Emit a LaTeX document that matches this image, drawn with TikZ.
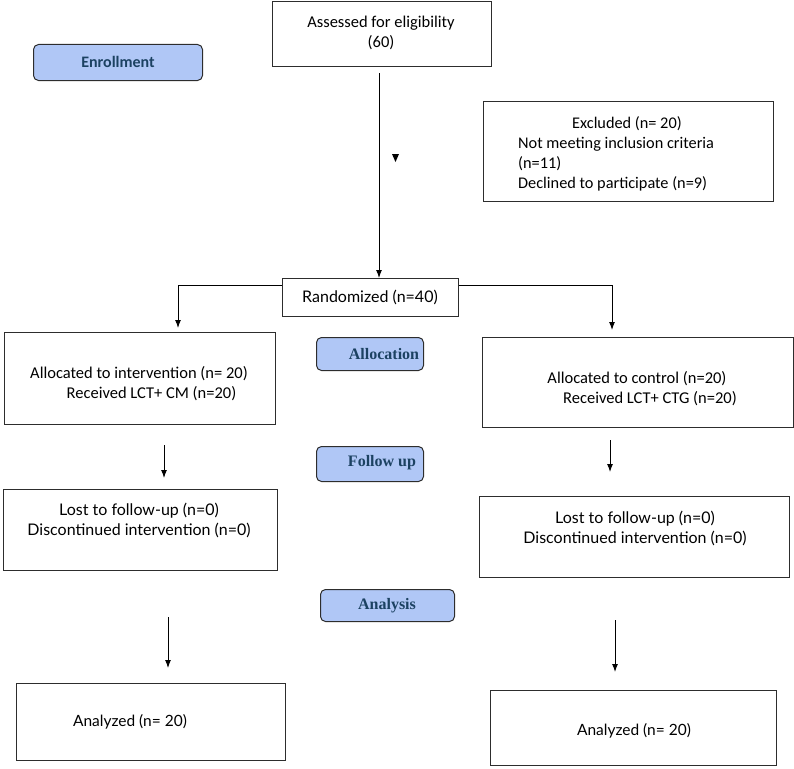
\documentclass[tikz,border=0pt]{standalone}
\usepackage{fontspec}
\setmainfont{Carlito}
\newfontfamily\aptos{Lato}
\newfontfamily\timesb{Liberation Serif}
\usetikzlibrary{arrows.meta,positioning}
\definecolor{lblfill}{RGB}{176,199,246}
\definecolor{lbltext}{RGB}{28,66,98}
\definecolor{edge}{RGB}{45,45,45}
\tikzset{
  box/.style={draw=edge, line width=1pt, fill=white, inner sep=0pt, anchor=north west},
  lbl/.style={draw=edge, line width=1pt, fill=lblfill, rounded corners=5pt, inner sep=0pt, anchor=north west},
  txt/.style={inner sep=0pt, font=\fontsize{16.5}{20}\selectfont, align=center},
  ltxt/.style={inner sep=0pt, font=\fontsize{16.3}{20}\selectfont, align=left},
  atxt/.style={inner sep=0pt, font=\aptos\fontsize{16}{20}\selectfont, align=center},
  antxt/.style={inner sep=0pt, font=\aptos\fontsize{15.5}{20}\selectfont, align=center},
  lbls/.style={inner sep=0pt, font=\fontsize{16}{20}\selectfont\bfseries, text=lbltext},
  lblt/.style={inner sep=0pt, font=\timesb\fontsize{16}{20}\selectfont\bfseries, text=lbltext},
  conn/.style={line width=1pt, -{Latex[length=8pt,width=6pt]}},
  plain/.style={line width=1pt}
}
\begin{document}
\begin{tikzpicture}[x=1pt,y=-1pt]
\useasboundingbox (0,0) rectangle (794,768);
% boxes
\node[box, minimum width=219, minimum height=65] (assess) at (272,1) {};
\node[txt] (assesst) at (381,33) {Assessed for eligibility\\(60)};
\node[lbl, minimum width=169, minimum height=36] (enrol) at (33,44) {};
\node[lbls] (enrolt) at (118,62) {Enrollment};
\node[box, minimum width=290, minimum height=100] (excl) at (483,101) {};
\node[ltxt, anchor=west] (exclt) at (518,154) {\hspace*{54pt}Excluded (n= 20)\\Not meeting inclusion criteria\\(n=11)\\Declined to participate (n=9)};
\node[box, minimum width=176, minimum height=38] (rand) at (282,278) {};
\node[atxt] (randt) at (370,297) {Randomized (n=40)};
% allocation
\node[box, minimum width=271, minimum height=92] (alocL) at (4,332) {};
\node[txt] (alocLt) at (139,384) {Allocated to intervention (n= 20)\\\hspace*{25pt}Received LCT+ CM (n=20)};
\node[lbl, minimum width=107, minimum height=33] (alloc) at (316,337) {};
\node[lblt] (alloct) at (384,354) {Allocation};
\node[box, minimum width=311, minimum height=90] (alocR) at (482,337) {};
\node[txt] (alocRt) at (637,389) {Allocated to control (n=20)\\\hspace*{26pt}Received LCT+ CTG (n=20)};
% follow up
\node[lbl, minimum width=107, minimum height=35] (follow) at (316,446) {};
\node[lblt] (followt) at (382,463) {Follow up};
\node[box, minimum width=274, minimum height=81] (lostL) at (3,489) {};
\node[atxt] (lostLt) at (139,520) {Lost to follow-up (n=0)\\Discontinued intervention (n=0)};
\node[box, minimum width=310, minimum height=81] (lostR) at (479,496) {};
\node[atxt] (lostRt) at (635,528) {Lost to follow-up (n=0)\\Discontinued intervention (n=0)};
% analysis
\node[lbl, minimum width=134, minimum height=32] (anal) at (320,589) {};
\node[lblt] (analt) at (387,606) {Analysis};
\node[box, minimum width=269, minimum height=77] (anL) at (16,683) {};
\node[antxt] (anLt) at (130,722) {Analyzed (n= 20)};
\node[box, minimum width=286, minimum height=75] (anR) at (490,690) {};
\node[antxt] (anRt) at (634,731) {Analyzed (n= 20)};
% coordinates
\coordinate (m0) at (379,73);
\coordinate (m1) at (379,278);
\coordinate (bl) at (178,285);
\coordinate (br) at (612,285);
\coordinate (blt) at (178,328);
\coordinate (brt) at (612,330);
\coordinate (f1s) at (164,445);
\coordinate (f1e) at (164,478);
\coordinate (f2s) at (610,440);
\coordinate (f2e) at (610,472);
\coordinate (a1s) at (168,617);
\coordinate (a1e) at (168,668);
\coordinate (a2s) at (615,620);
\coordinate (a2e) at (615,672);
\coordinate (tri) at (395.5,158);
% connectors
\draw[conn] (m0) -- (m1);
\draw[conn] (rand.west |- bl) -- (bl) -- (blt);
\draw[conn] (rand.east |- br) -- (br) -- (brt);
\draw[conn] (f1s) -- (f1e);
\draw[conn] (f2s) -- (f2e);
\draw[conn] (a1s) -- (a1e);
\draw[conn] (a2s) -- (a2e);
\fill (tri) ++(-3.5,-4) -- ++(7,0) -- ++(-3.5,8) -- cycle;
\end{tikzpicture}
\end{document}
